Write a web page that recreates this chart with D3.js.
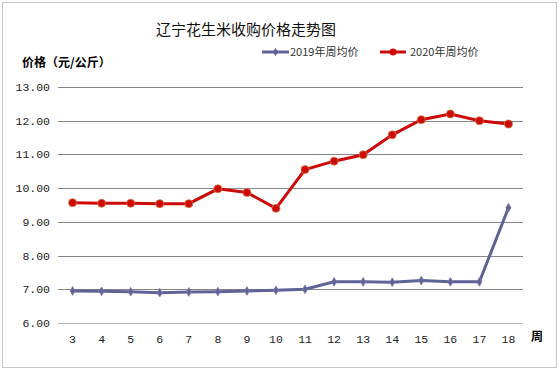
<!DOCTYPE html>
<html>
<head>
<meta charset="utf-8">
<script src="https://cdn.jsdelivr.net/npm/d3@7"></script>
<style>
body { margin: 0; background: #fff; }
text { font-family: "SimSun", "Noto Sans CJK SC", sans-serif; }
text.num { font-family: "Liberation Mono", "DejaVu Sans Mono", monospace; }
</style>
</head>
<body>
<svg id="chart" width="559" height="371"></svg>
<script>
var weeks = [3, 4, 5, 6, 7, 8, 9, 10, 11, 12, 13, 14, 15, 16, 17, 18];
var price2019 = [6.95, 6.94, 6.93, 6.90, 6.92, 6.93, 6.95, 6.97, 7.00, 7.22, 7.22, 7.21, 7.26, 7.22, 7.22, 9.42];
var price2020 = [9.57, 9.55, 9.55, 9.54, 9.54, 9.98, 9.87, 9.40, 10.55, 10.80, 10.99, 11.58, 12.03, 12.20, 12.00, 11.90];
var yTicks = [6, 7, 8, 9, 10, 11, 12, 13];
var seriesNames = ["2019年周均价", "2020年周均价"];

var svg = d3.select("#chart");

// border
svg.append("rect").attr("x", 2.5).attr("y", 2.5).attr("width", 554).attr("height", 365)
  .attr("fill", "#fff").attr("stroke", "#c6c6c6");

var x = d3.scaleBand().domain(weeks).range([58, 523]);
var y = d3.scaleLinear().domain([6, 13]).range([323, 87]);

// grid
svg.append("g").selectAll("line").data(yTicks).enter().append("line")
  .attr("x1", 58).attr("x2", 523)
  .attr("y1", function(d) { return Math.round(y(d)) + 0.5; })
  .attr("y2", function(d) { return Math.round(y(d)) + 0.5; })
  .attr("stroke", function(d) { return d == 6 ? "#b4b4b4" : "#868686"; });

// y labels
svg.append("g").selectAll("text").data(yTicks).enter().append("text")
  .attr("class", "num")
  .attr("x", 50).attr("y", function(d) { return y(d) + 4; })
  .attr("text-anchor", "end").attr("font-size", 11.5).attr("fill", "#222")
  .text(function(d) { return d3.format(".2f")(d); });

// x labels
svg.append("g").selectAll("text").data(weeks).enter().append("text")
  .attr("class", "num")
  .attr("x", function(d) { return x(d) + x.bandwidth() / 2; }).attr("y", 343)
  .attr("text-anchor", "middle").attr("font-size", 11.5).attr("fill", "#222")
  .text(function(d) { return d; });

svg.append("text").attr("x", 537).attr("y", 341).attr("text-anchor", "middle")
  .attr("font-size", 12).attr("font-weight", "bold").text("周");

svg.append("text").attr("x", 246).attr("y", 35).attr("text-anchor", "middle")
  .attr("font-size", 15).attr("fill", "#111").text("辽宁花生米收购价格走势图");

svg.append("text").attr("x", 22).attr("y", 67)
  .attr("font-size", 12).attr("font-weight", "bold").text("价格（元/公斤）");

var cx = function(d, i) { return x(weeks[i]) + x.bandwidth() / 2; };
var line = d3.line().x(cx).y(function(d) { return y(d); });

// 2019 series
svg.append("path").datum(price2019).attr("d", line)
  .attr("fill", "none").attr("stroke", "#5f6296").attr("stroke-width", 3);
svg.append("g").selectAll("path").data(price2019).enter().append("path")
  .attr("d", d3.symbol().type(d3.symbolDiamond).size(22))
  .attr("transform", function(d, i) { return "translate(" + cx(d, i) + "," + y(d) + ")"; })
  .attr("fill", "#5f6296").attr("stroke", "#7a7cab").attr("stroke-width", 0.8);

// 2020 series
svg.append("path").datum(price2020).attr("d", line)
  .attr("fill", "none").attr("stroke", "#cc0a0a").attr("stroke-width", 3);
svg.append("g").selectAll("circle").data(price2020).enter().append("circle")
  .attr("cx", cx).attr("cy", function(d) { return y(d); }).attr("r", 4)
  .attr("fill", "#cc0a0a").attr("stroke", "#d9763e").attr("stroke-width", 0.8);

// legend
var leg = svg.append("g");
leg.append("line").attr("x1", 262).attr("x2", 289).attr("y1", 52).attr("y2", 52)
  .attr("stroke", "#5f6296").attr("stroke-width", 3);
leg.append("path").attr("d", d3.symbol().type(d3.symbolDiamond).size(22))
  .attr("transform", "translate(275.5,52)").attr("fill", "#5f6296");
leg.append("text").attr("x", 290).attr("y", 56).attr("font-size", 11).attr("fill", "#333").text(seriesNames[0]);
leg.append("line").attr("x1", 380).attr("x2", 406).attr("y1", 52).attr("y2", 52)
  .attr("stroke", "#cc0a0a").attr("stroke-width", 3);
leg.append("circle").attr("cx", 393).attr("cy", 52).attr("r", 3.5).attr("fill", "#cc0a0a");
leg.append("text").attr("x", 410).attr("y", 56).attr("font-size", 11).attr("fill", "#333").text(seriesNames[1]);
</script>
</body>
</html>
